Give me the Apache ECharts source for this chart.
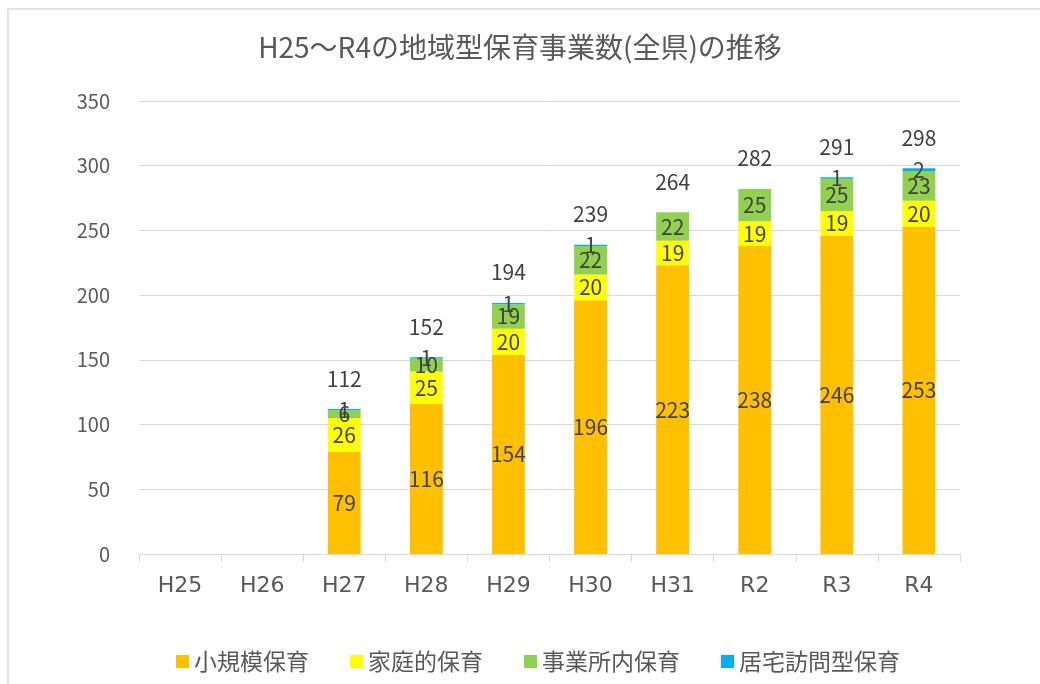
<!DOCTYPE html>
<html lang="ja">
<head>
<meta charset="UTF-8">
<title>地域型保育事業数の推移</title>
<script src="https://cdn.jsdelivr.net/npm/echarts@6/dist/echarts.min.js"></script>
<style>
    html, body { margin: 0; padding: 0; background: #fff; }
    #main { width: 1040px; height: 684px; }
</style>
</head>
<body>
<div id="main"></div>
<script>
    // 年度
    const years = ['H25', 'H26', 'H27', 'H28', 'H29', 'H30', 'H31', 'R2', 'R3', 'R4'];
    // 各事業数
    const small = [null, null, 79, 116, 154, 196, 223, 238, 246, 253];   // 小規模保育
    const family = [null, null, 26, 25, 20, 20, 19, 19, 19, 20];        // 家庭的保育
    const office = [null, null, 6, 10, 19, 22, 22, 25, 25, 23];         // 事業所内保育
    const visit = [null, null, 1, 1, 1, 1, 0, 0, 1, 2];                 // 居宅訪問型保育
    const yTicks = [0, 50, 100, 150, 200, 250, 300, 350];

    // 合計（グラフ上部のラベル用）
    const totals = years.map((y, i) =>
        small[i] == null ? null : small[i] + family[i] + office[i] + visit[i]);

    const font = '"Noto Sans CJK JP", "Noto Sans", sans-serif';
    const labelStyle = {
        show: true,
        position: 'inside',
        color: '#404040',
        fontSize: 21,
        fontFamily: font,
        formatter: p => (p.value ? p.value : '')
    };

    function barSeries(name, data, color) {
        return {
            name: name,
            type: 'bar',
            stack: 'total',
            barWidth: '40%',
            data: data,
            itemStyle: { color: color },
            label: labelStyle
        };
    }

    const chart = echarts.init(document.getElementById('main'));
    chart.setOption({
        animation: false,
        graphic: [{
            type: 'rect',
            shape: { x: 8, y: 9, width: 1200, height: 1000 },
            style: { fill: 'none', stroke: '#d9d9d9', lineWidth: 1.5 },
            silent: true
        }],
        title: {
            text: 'H25〜R4の地域型保育事業数(全県)の推移',
            left: 'center',
            top: 28,
            textStyle: { color: '#595959', fontSize: 28, fontWeight: 'normal', fontFamily: font }
        },
        legend: {
            data: ['小規模保育', '家庭的保育', '事業所内保育', '居宅訪問型保育'],
            left: 171,
            top: 645,
            icon: 'rect',
            itemWidth: 13,
            itemHeight: 13,
            itemGap: 41,
            textStyle: { color: '#595959', fontSize: 23, fontFamily: font }
        },
        grid: { left: 139, right: 80, top: 101, bottom: 130 },
        xAxis: {
            type: 'category',
            data: years,
            axisLine: { lineStyle: { color: '#d9d9d9', width: 1 } },
            axisTick: { show: true, length: 8, lineStyle: { color: '#d9d9d9' } },
            axisLabel: { color: '#595959', fontSize: 22, fontFamily: '"DejaVu Sans", sans-serif', margin: 21 }
        },
        yAxis: {
            type: 'value',
            min: yTicks[0],
            max: yTicks[yTicks.length - 1],
            interval: 50,
            axisLine: { show: false },
            axisTick: { show: false },
            splitLine: { lineStyle: { color: '#d9d9d9', width: 1 } },
            axisLabel: { color: '#595959', fontSize: 20, fontFamily: font, margin: 29 }
        },
        series: [
            barSeries('小規模保育', small, '#FFC000'),
            barSeries('家庭的保育', family, '#FFFF00'),
            barSeries('事業所内保育', office, '#92D050'),
            barSeries('居宅訪問型保育', visit, '#00B0F0'),
            {
                name: '合計',
                type: 'bar',
                stack: 'total',
                barWidth: '40%',
                data: totals.map(t => (t == null ? null : 0)),
                itemStyle: { color: 'transparent' },
                label: {
                    show: true,
                    position: 'top',
                    distance: 20,
                    color: '#404040',
                    fontSize: 21,
                    fontFamily: font,
                    formatter: p => (totals[p.dataIndex] == null ? '' : totals[p.dataIndex])
                }
            }
        ]
    });
</script>
</body>
</html>
